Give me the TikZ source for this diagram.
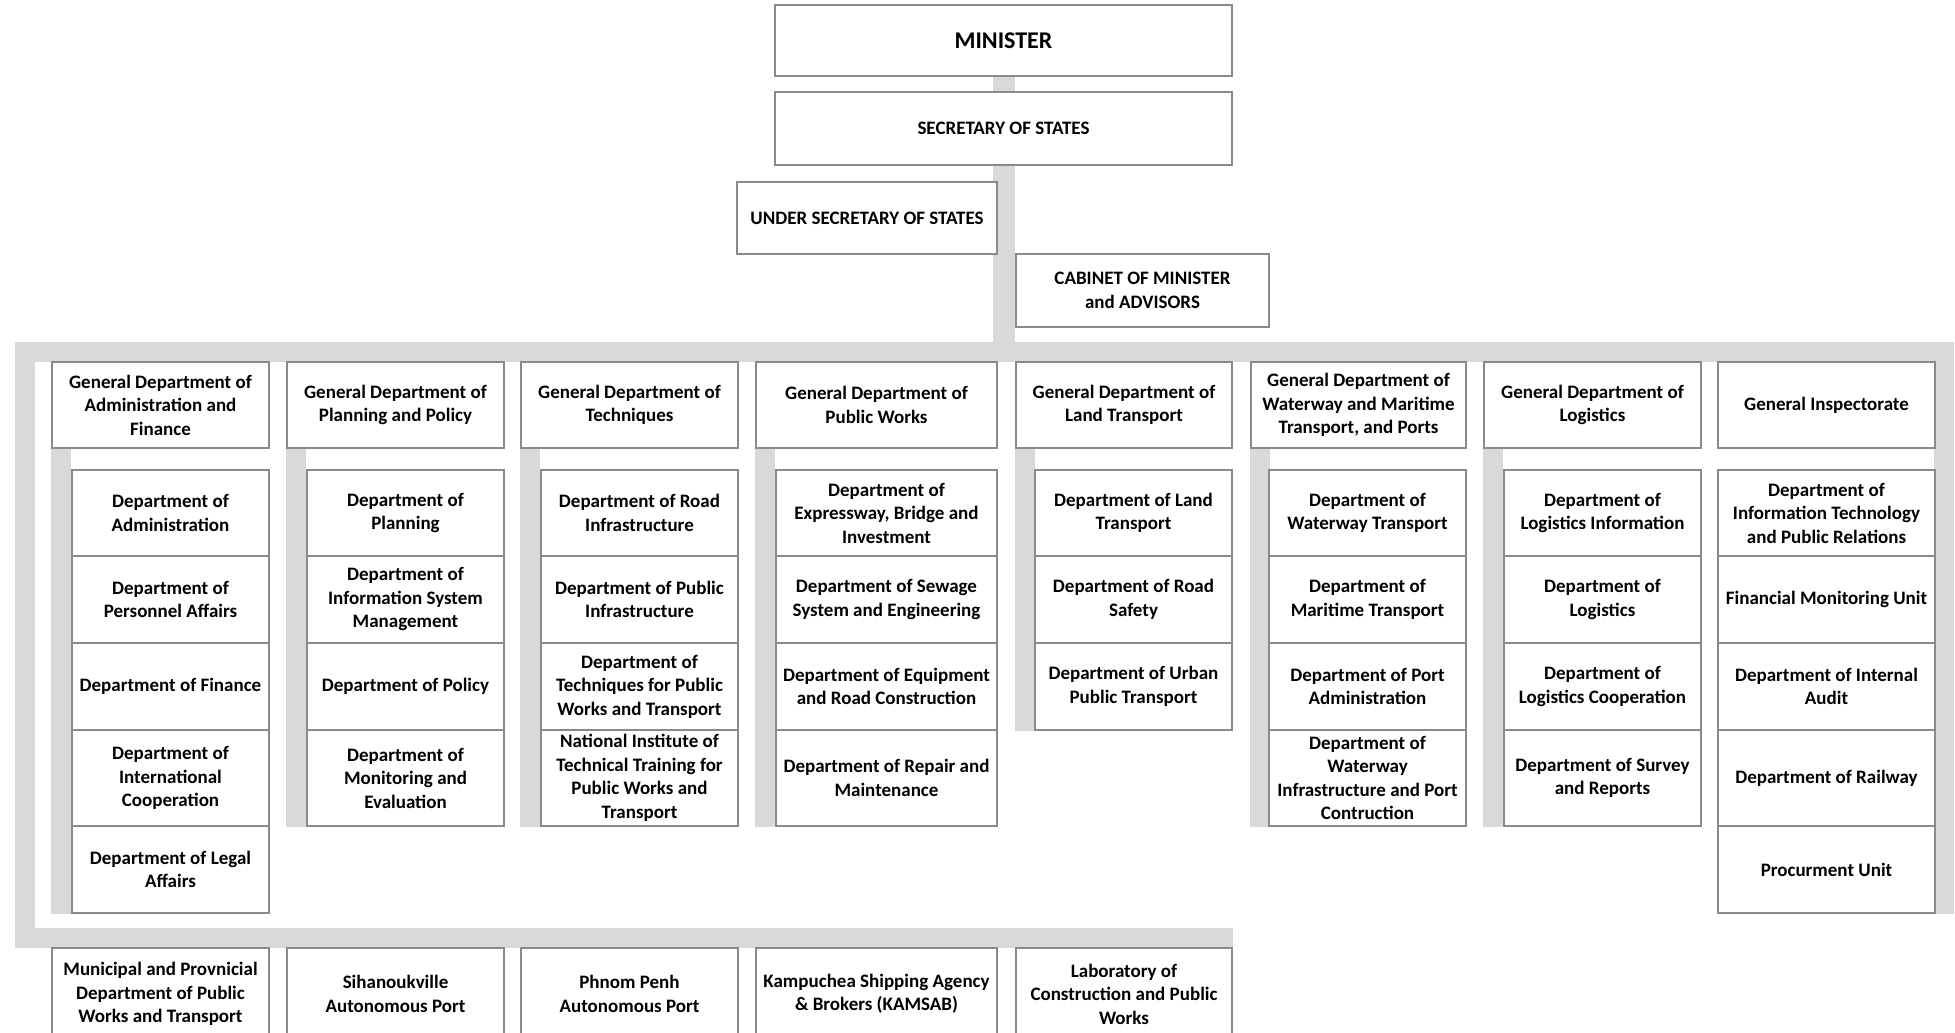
\documentclass[tikz,border=0pt]{standalone}
\usepackage{fontspec}
\setmainfont{Carlito}
\usetikzlibrary{calc}
\definecolor{barcol}{HTML}{D9D9D9}
\definecolor{edgecol}{HTML}{8A8A8A}
\pgfdeclarelayer{bg}
\pgfsetlayers{bg,main}
\newcommand\obox[7][]{%
  \pgfmathsetmacro\oboxw{(#5-#3)*0.5}%
  \pgfmathsetmacro\oboxh{(#6-#4)*0.5}%
  \node[box,#1,minimum width=\oboxw pt,minimum height=\oboxh pt] (#2) at ({(#3+#5)/2},{(#4+#6)/2}) {#7};}
\begin{document}
\begin{tikzpicture}[x=0.5pt,y=-0.5pt,
  box/.style={draw=edgecol,line width=0.7pt,fill=white,align=center,inner sep=1pt,
    font=\fontsize{9.5}{11.75}\selectfont\bfseries,text=black},
  bigtext/.style={font=\fontsize{12}{14}\selectfont\bfseries},
  framebar/.style={draw=barcol,line width=10pt,line join=miter},
  mainbar/.style={draw=barcol,line width=11pt},
  subbar/.style={draw=barcol,line width=10pt}]
\useasboundingbox (0,0) rectangle (1955,1033);
\clip (0,0) rectangle (1955,1033);
% top
\obox[bigtext]{min}{775}{5}{1232}{76}{MINISTER}
\obox{sec}{775}{92}{1232}{165}{SECRETARY OF STATES}
\obox{usec}{737}{182}{997}{254}{UNDER SECRETARY OF STATES}
\obox{cab}{1016}{254}{1269}{327}{CABINET OF MINISTER\\and ADVISORS}
% headers
\obox{h1}{52}{362}{269}{448}{General Department of\\Administration and\\Finance}
\obox{h2}{287}{362}{504}{448}{General Department of\\Planning and Policy}
\obox{h3}{521}{362}{738}{448}{General Department of\\Techniques}
\obox{h4}{756}{362}{997}{448}{General Department of\\Public Works}
\obox{h5}{1016}{362}{1232}{448}{General Department of\\Land Transport}
\obox{h6}{1251}{362}{1466}{448}{General Department of\\Waterway and Maritime\\Transport, and Ports}
\obox{h7}{1484}{362}{1701}{448}{General Department of\\Logistics}
\obox{h8}{1718}{362}{1935}{448}{General Inspectorate}
% column 1
\obox{c1a}{72}{470}{269}{556}{Department of\\Administration}
\obox{c1b}{72}{556}{269}{643}{Department of\\Personnel Affairs}
\obox{c1c}{72}{643}{269}{730}{Department of Finance}
\obox{c1d}{72}{730}{269}{826}{Department of\\International\\Cooperation}
\obox{c1e}{72}{826}{269}{913}{Department of Legal\\Affairs}
% column 2
\obox{c2a}{307}{470}{504}{556}{Department of\\Planning}
\obox{c2b}{307}{556}{504}{643}{Department of\\Information System\\Management}
\obox{c2c}{307}{643}{504}{730}{Department of Policy}
\obox{c2d}{307}{730}{504}{826}{Department of\\Monitoring and\\Evaluation}
% column 3
\obox{c3a}{541}{470}{738}{556}{Department of Road\\Infrastructure}
\obox{c3b}{541}{556}{738}{643}{Department of Public\\Infrastructure}
\obox{c3c}{541}{643}{738}{730}{Department of\\Techniques for Public\\Works and Transport}
\obox{c3d}{541}{730}{738}{826}{National Institute of\\Technical Training for\\Public Works and\\Transport}
% column 4
\obox{c4a}{776}{470}{997}{556}{Department of\\Expressway, Bridge and\\Investment}
\obox{c4b}{776}{556}{997}{643}{Department of Sewage\\System and Engineering}
\obox{c4c}{776}{643}{997}{730}{Department of Equipment\\and Road Construction}
\obox{c4d}{776}{730}{997}{826}{Department of Repair and\\Maintenance}
% column 5
\obox{c5a}{1035}{470}{1232}{556}{Department of Land\\Transport}
\obox{c5b}{1035}{556}{1232}{643}{Department of Road\\Safety}
\obox{c5c}{1035}{643}{1232}{730}{Department of Urban\\Public Transport}
% column 6
\obox{c6a}{1269}{470}{1466}{556}{Department of\\Waterway Transport}
\obox{c6b}{1269}{556}{1466}{643}{Department of\\Maritime Transport}
\obox{c6c}{1269}{643}{1466}{730}{Department of Port\\Administration}
\obox{c6d}{1269}{730}{1466}{826}{Department of\\Waterway\\Infrastructure and Port\\Contruction}
% column 7
\obox{c7a}{1504}{470}{1701}{556}{Department of\\Logistics Information}
\obox{c7b}{1504}{556}{1701}{643}{Department of\\Logistics}
\obox{c7c}{1504}{643}{1701}{730}{Department of\\Logistics Cooperation}
\obox{c7d}{1504}{730}{1701}{826}{Department of Survey\\and Reports}
% column 8
\obox{c8a}{1718}{470}{1935}{556}{Department of\\Information Technology\\and Public Relations}
\obox{c8b}{1718}{556}{1935}{643}{Financial Monitoring Unit}
\obox{c8c}{1718}{643}{1935}{730}{Department of Internal\\Audit}
\obox{c8d}{1718}{730}{1935}{826}{Department of Railway}
\obox{c8e}{1718}{826}{1935}{913}{Procurment Unit}
% bottom
\obox{b1}{52}{948}{269}{1040}{Municipal and Provnicial\\Department of Public\\Works and Transport}
\obox{b2}{287}{948}{504}{1040}{Sihanoukville\\Autonomous Port}
\obox{b3}{521}{948}{738}{1040}{Phnom Penh\\Autonomous Port}
\obox{b4}{756}{948}{997}{1040}{Kampuchea Shipping Agency\\\& Brokers (KAMSAB)}
\obox{b5}{1016}{948}{1232}{1040}{Laboratory of\\Construction and Public\\Works}
% bars
\coordinate (tl) at (24.5,352);
\coordinate (tr) at (1944,352);
\coordinate (bl) at (24.5,938);
\begin{pgfonlayer}{bg}
\draw[framebar] (c8e.south -| tr) -- (tr) -- (tl) -- (bl) -- (b5.north east |- bl);
\draw[mainbar] (min.south) -- (min.south |- tl);
\foreach \h/\l in {h1/c1e,h2/c2d,h3/c3d,h4/c4d,h5/c5c,h6/c6d,h7/c7d}
  \draw[subbar] ([xshift=5pt]\h.south west) -- ([xshift=5pt]\h.south west |- \l.south);
\end{pgfonlayer}
\end{tikzpicture}
\end{document}
